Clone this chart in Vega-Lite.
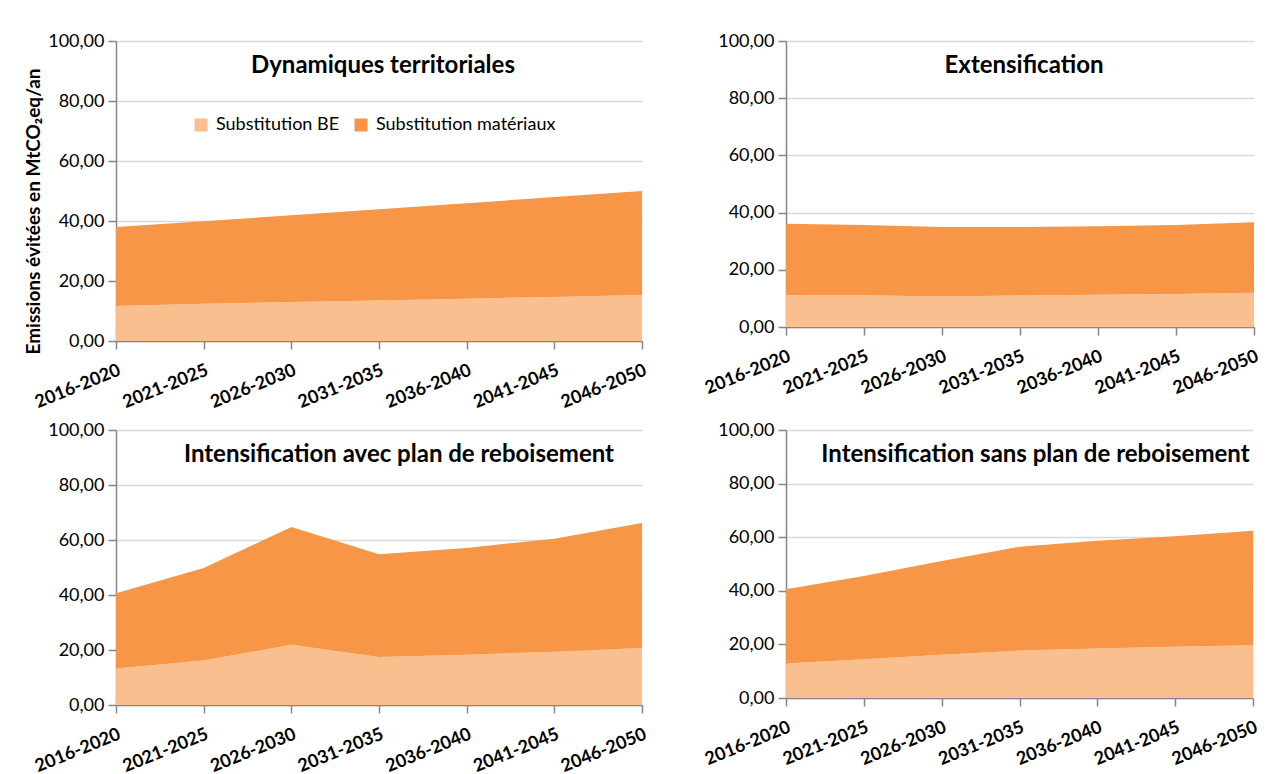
{
  "$schema": "https://vega.github.io/schema/vega-lite/v6.json",
  "background": "white",
  "padding": {"left": 24, "top": 32, "right": 5, "bottom": 5},
  "datasets": {
    "d": [
      {"panel": "P1", "period": "2016-2020", "series": "Substitution BE", "value": 11.7},
      {"panel": "P1", "period": "2021-2025", "series": "Substitution BE", "value": 12.4},
      {"panel": "P1", "period": "2026-2030", "series": "Substitution BE", "value": 13.0},
      {"panel": "P1", "period": "2031-2035", "series": "Substitution BE", "value": 13.5},
      {"panel": "P1", "period": "2036-2040", "series": "Substitution BE", "value": 14.1},
      {"panel": "P1", "period": "2041-2045", "series": "Substitution BE", "value": 14.7},
      {"panel": "P1", "period": "2046-2050", "series": "Substitution BE", "value": 15.3},
      {"panel": "P1", "period": "2016-2020", "series": "Substitution matériaux", "value": 26.3},
      {"panel": "P1", "period": "2021-2025", "series": "Substitution matériaux", "value": 27.5},
      {"panel": "P1", "period": "2026-2030", "series": "Substitution matériaux", "value": 28.9},
      {"panel": "P1", "period": "2031-2035", "series": "Substitution matériaux", "value": 30.4},
      {"panel": "P1", "period": "2036-2040", "series": "Substitution matériaux", "value": 31.8},
      {"panel": "P1", "period": "2041-2045", "series": "Substitution matériaux", "value": 33.3},
      {"panel": "P1", "period": "2046-2050", "series": "Substitution matériaux", "value": 34.7},
      {"panel": "P2", "period": "2016-2020", "series": "Substitution BE", "value": 11.2},
      {"panel": "P2", "period": "2021-2025", "series": "Substitution BE", "value": 11.1},
      {"panel": "P2", "period": "2026-2030", "series": "Substitution BE", "value": 10.7},
      {"panel": "P2", "period": "2031-2035", "series": "Substitution BE", "value": 11.0},
      {"panel": "P2", "period": "2036-2040", "series": "Substitution BE", "value": 11.3},
      {"panel": "P2", "period": "2041-2045", "series": "Substitution BE", "value": 11.5},
      {"panel": "P2", "period": "2046-2050", "series": "Substitution BE", "value": 12.0},
      {"panel": "P2", "period": "2016-2020", "series": "Substitution matériaux", "value": 24.9},
      {"panel": "P2", "period": "2021-2025", "series": "Substitution matériaux", "value": 24.6},
      {"panel": "P2", "period": "2026-2030", "series": "Substitution matériaux", "value": 24.3},
      {"panel": "P2", "period": "2031-2035", "series": "Substitution matériaux", "value": 24.0},
      {"panel": "P2", "period": "2036-2040", "series": "Substitution matériaux", "value": 23.9},
      {"panel": "P2", "period": "2041-2045", "series": "Substitution matériaux", "value": 24.2},
      {"panel": "P2", "period": "2046-2050", "series": "Substitution matériaux", "value": 24.6},
      {"panel": "P3", "period": "2016-2020", "series": "Substitution BE", "value": 13.3},
      {"panel": "P3", "period": "2021-2025", "series": "Substitution BE", "value": 16.2},
      {"panel": "P3", "period": "2026-2030", "series": "Substitution BE", "value": 21.9},
      {"panel": "P3", "period": "2031-2035", "series": "Substitution BE", "value": 17.5},
      {"panel": "P3", "period": "2036-2040", "series": "Substitution BE", "value": 18.3},
      {"panel": "P3", "period": "2041-2045", "series": "Substitution BE", "value": 19.4},
      {"panel": "P3", "period": "2046-2050", "series": "Substitution BE", "value": 20.7},
      {"panel": "P3", "period": "2016-2020", "series": "Substitution matériaux", "value": 27.3},
      {"panel": "P3", "period": "2021-2025", "series": "Substitution matériaux", "value": 33.6},
      {"panel": "P3", "period": "2026-2030", "series": "Substitution matériaux", "value": 42.8},
      {"panel": "P3", "period": "2031-2035", "series": "Substitution matériaux", "value": 37.3},
      {"panel": "P3", "period": "2036-2040", "series": "Substitution matériaux", "value": 38.8},
      {"panel": "P3", "period": "2041-2045", "series": "Substitution matériaux", "value": 41.1},
      {"panel": "P3", "period": "2046-2050", "series": "Substitution matériaux", "value": 45.5},
      {"panel": "P4", "period": "2016-2020", "series": "Substitution BE", "value": 12.9},
      {"panel": "P4", "period": "2021-2025", "series": "Substitution BE", "value": 14.5},
      {"panel": "P4", "period": "2026-2030", "series": "Substitution BE", "value": 16.1},
      {"panel": "P4", "period": "2031-2035", "series": "Substitution BE", "value": 17.7},
      {"panel": "P4", "period": "2036-2040", "series": "Substitution BE", "value": 18.5},
      {"panel": "P4", "period": "2041-2045", "series": "Substitution BE", "value": 19.1},
      {"panel": "P4", "period": "2046-2050", "series": "Substitution BE", "value": 19.7},
      {"panel": "P4", "period": "2016-2020", "series": "Substitution matériaux", "value": 27.7},
      {"panel": "P4", "period": "2021-2025", "series": "Substitution matériaux", "value": 31.0},
      {"panel": "P4", "period": "2026-2030", "series": "Substitution matériaux", "value": 35.0},
      {"panel": "P4", "period": "2031-2035", "series": "Substitution matériaux", "value": 38.7},
      {"panel": "P4", "period": "2036-2040", "series": "Substitution matériaux", "value": 40.2},
      {"panel": "P4", "period": "2041-2045", "series": "Substitution matériaux", "value": 41.3},
      {"panel": "P4", "period": "2046-2050", "series": "Substitution matériaux", "value": 42.7}
    ]
  },
  "data": {"name": "d"},
  "bounds": "flush",
  "align": "each",
  "columns": 2,
  "spacing": {"row": 89, "column": 144},
  "resolve": {"scale": {"color": "independent"}, "legend": {"color": "independent"}},
  "concat": [
    {
      "width": 526, "height": 300,
      "title": {"text": "Dynamiques territoriales", "dx": 4},
      "transform": [{"filter": "datum.panel === 'P1'"}],
      "mark": {"type": "area", "interpolate": "linear"},
      "encoding": {
        "x": {"field": "period", "type": "ordinal", "scale": {"type": "point", "padding": 0}, "axis": {"title": null}},
        "y": {"field": "value", "type": "quantitative", "stack": "zero", "scale": {"domain": [0, 100]},
              "axis": {"values": [0, 20, 40, 60, 80, 100], "title": "Emissions évitées en MtCO₂eq/an", "titleFontSize": 19, "titleFontWeight": "bold", "titlePadding": 4, "titleColor": "#000000", "titleY": 170}},
        "color": {"field": "series", "type": "nominal",
                  "scale": {"domain": ["Substitution BE", "Substitution matériaux"], "range": ["#F9BF8F", "#F79646"]},
                  "legend": {"title": null, "orient": "none", "direction": "horizontal", "legendX": 76, "legendY": 75}},
        "order": {"field": "series", "sort": "ascending"}
      }
    },
    {
      "width": 468, "height": 286,
      "title": {"text": "Extensification", "dx": 4},
      "transform": [{"filter": "datum.panel === 'P2'"}],
      "mark": {"type": "area", "interpolate": "linear"},
      "encoding": {
        "x": {"field": "period", "type": "ordinal", "scale": {"type": "point", "padding": 0}, "axis": {"title": null}},
        "y": {"field": "value", "type": "quantitative", "stack": "zero", "scale": {"domain": [0, 100]}, "axis": {"values": [0, 20, 40, 60, 80, 100], "title": null}},
        "color": {"field": "series", "type": "nominal",
                  "scale": {"domain": ["Substitution BE", "Substitution matériaux"], "range": ["#F9BF8F", "#F79646"]},
                  "legend": null},
        "order": {"field": "series", "sort": "ascending"}
      }
    },
    {
      "width": 526, "height": 275,
      "title": {"text": "Intensification avec plan de reboisement", "dx": 20},
      "transform": [{"filter": "datum.panel === 'P3'"}],
      "mark": {"type": "area", "interpolate": "linear"},
      "encoding": {
        "x": {"field": "period", "type": "ordinal", "scale": {"type": "point", "padding": 0}, "axis": {"title": null}},
        "y": {"field": "value", "type": "quantitative", "stack": "zero", "scale": {"domain": [0, 100]}, "axis": {"values": [0, 20, 40, 60, 80, 100], "title": null}},
        "color": {"field": "series", "type": "nominal",
                  "scale": {"domain": ["Substitution BE", "Substitution matériaux"], "range": ["#F9BF8F", "#F79646"]},
                  "legend": null},
        "order": {"field": "series", "sort": "ascending"}
      }
    },
    {
      "width": 467, "height": 268,
      "title": {"text": "Intensification sans plan de reboisement", "dx": 16},
      "transform": [{"filter": "datum.panel === 'P4'"}],
      "mark": {"type": "area", "interpolate": "linear"},
      "encoding": {
        "x": {"field": "period", "type": "ordinal", "scale": {"type": "point", "padding": 0}, "axis": {"title": null}},
        "y": {"field": "value", "type": "quantitative", "stack": "zero", "scale": {"domain": [0, 100]}, "axis": {"values": [0, 20, 40, 60, 80, 100], "title": null}},
        "color": {"field": "series", "type": "nominal",
                  "scale": {"domain": ["Substitution BE", "Substitution matériaux"], "range": ["#F9BF8F", "#F79646"]},
                  "legend": null},
        "order": {"field": "series", "sort": "ascending"}
      }
    }
  ],
  "config": {
    "font": "Lato",
    "view": {"stroke": null},
    "title": {"anchor": "middle", "frame": "group", "offset": -46, "fontSize": 24, "fontWeight": "bold", "color": "#000000", "font": "Lato"},
    "axis": {
      "domainColor": "#868686", "domainWidth": 1.5,
      "tickColor": "#868686", "tickWidth": 1.5, "tickSize": 8,
      "labelColor": "#000000", "labelFont": "Lato"
    },
    "axisX": {"labelAngle": -22, "labelFontSize": 18, "labelFontWeight": "bold", "labelPadding": 12, "grid": false},
    "axisY": {"labelExpr": "replace(format(datum.value, '.2f'), '.', ',')",
              "labelFontSize": 18, "labelPadding": 4, "grid": true, "gridColor": "#d9d9d9", "gridWidth": 1.5},
    "legend": {"labelFontSize": 18, "labelColor": "#000000", "labelFont": "Lato", "labelLimit": 400, "symbolType": "square", "symbolSize": 170, "symbolStrokeWidth": 0, "columnPadding": 12, "labelOffset": 6}
  }
}
